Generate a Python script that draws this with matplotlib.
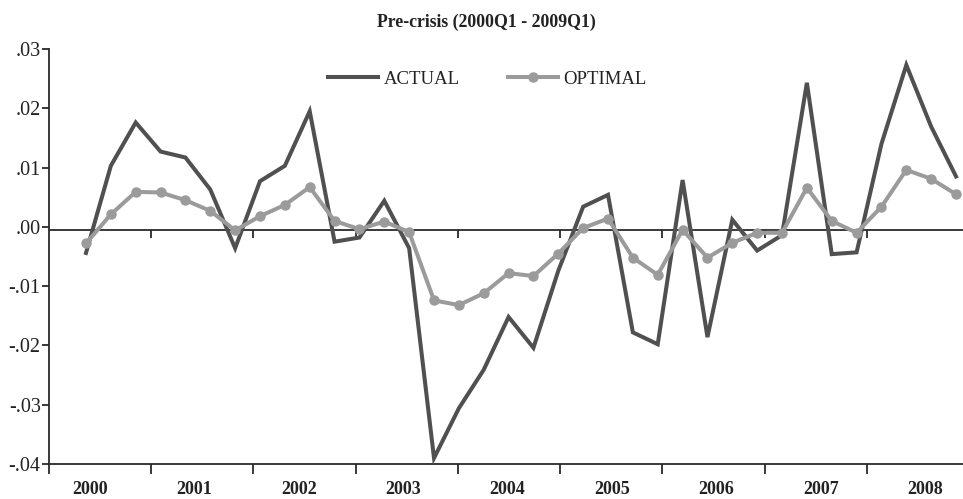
import matplotlib
matplotlib.use("Agg")
import matplotlib.pyplot as plt
import numpy as np

# ---- data (2000Q1 ... 2008Q4) ----
quarters = np.arange(36)
actual = [-0.0044, 0.0103, 0.0176, 0.0127, 0.0117, 0.0063, -0.0036, 0.0077, 0.0103, 0.0195,
          -0.0025, -0.0018, 0.0044, -0.0036, -0.0390, -0.0306, -0.0241, -0.0152, -0.0204, -0.0074,
          0.0034, 0.0054, -0.0178, -0.0198, 0.0079, -0.0186, 0.0012, -0.0040, -0.0014, 0.0243,
          -0.0046, -0.0043, 0.0140, 0.0273, 0.0169, 0.0085]
optimal = [-0.0028, 0.0021, 0.0059, 0.0058, 0.0045, 0.0027, -0.0006, 0.0018, 0.0037, 0.0067,
           0.0010, -0.0004, 0.0009, -0.0009, -0.0124, -0.0132, -0.0112, -0.0078, -0.0083, -0.0045,
           -0.0002, 0.0014, -0.0052, -0.0081, -0.0005, -0.0052, -0.0027, -0.0010, -0.0010, 0.0066,
           0.0010, -0.0010, 0.0034, 0.0096, 0.0081, 0.0055]
years = ["2000", "2001", "2002", "2003", "2004", "2005", "2006", "2007", "2008"]
yticks = [-0.04, -0.03, -0.02, -0.01, 0.00, 0.01, 0.02, 0.03]
ytick_labels = ["-.04", "-.03", "-.02", "-.01", ".00", ".01", ".02", ".03"]
title = "Pre-crisis (2000Q1 - 2009Q1)"

plt.rcParams['font.family'] = ['Liberation Serif', 'DejaVu Serif']

W, H = 963, 499
fig = plt.figure(figsize=(W / 100, H / 100), dpi=100)
ax = fig.add_axes([49 / W, (H - 464) / H, 1 - 49 / W, (464 - 49) / H])

c_act = "#505050"
c_opt = "#9b9b9b"
axis_c = "#2a2a2a"

ax.plot(quarters, actual, color=c_act, lw=2.9, label="ACTUAL", zorder=3,
        solid_joinstyle='miter')
ax.plot(quarters, optimal, color=c_opt, lw=2.9, marker='o', ms=6.5, label="OPTIMAL",
        zorder=4)

ax.set_ylim(-0.04, 0.03)
ax.set_xlim(-1.488, 35.28)

# zero reference line with its own tick marks
zero_y = -0.0006
ax.axhline(zero_y, color=axis_c, lw=1.3, zorder=2)
bounds = [-1.488 + 4.113 * k for k in range(1, 9)]
ax.vlines(bounds, zero_y - 0.00135, zero_y, color=axis_c, lw=1.3, zorder=2)

for s in ['top', 'right']:
    ax.spines[s].set_visible(False)
for s in ['left', 'bottom']:
    ax.spines[s].set_color(axis_c)
    ax.spines[s].set_linewidth(1.3)

ax.set_yticks(yticks)
ax.set_yticklabels(ytick_labels, fontsize=14.5, color="#222222")
ax.tick_params(axis='y', direction='out', length=5, width=1.3, color=axis_c, pad=1)

ax.set_xticks([-1.488 + 4.113 * k for k in range(0, 9)])
ax.set_xticklabels([])
ax.tick_params(axis='x', which='major', direction='out', length=7, width=1.3, color=axis_c)
label_pos = [0.16 + 4.2 * k for k in range(9)]
ax.set_xticks(label_pos, minor=True)
ax.set_xticklabels(years, minor=True, fontsize=13, fontweight='bold', color="#222222")
ax.tick_params(axis='x', which='minor', length=0, pad=12)

fig.text(486.5 / W, (H - 22) / H, title, ha='center', va='center', fontsize=12.8,
         fontweight='bold', color="#222222")

leg = ax.legend(loc='center left', bbox_to_anchor=(328 / W, (H - 79) / H),
                bbox_transform=fig.transFigure, ncol=2, frameon=False,
                fontsize=13.5, handlelength=2.65, handletextpad=0.3,
                columnspacing=2.6, borderpad=0, borderaxespad=0)
for t in leg.get_texts():
    t.set_color("#222222")

fig.savefig("out.png", dpi=100)
